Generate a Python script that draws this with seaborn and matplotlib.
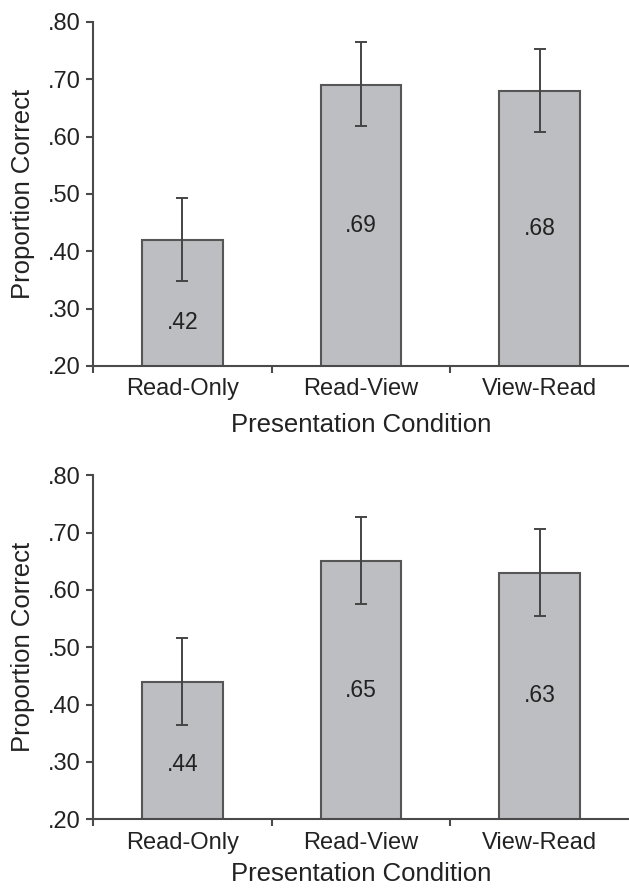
import seaborn as sns
import matplotlib.pyplot as plt
import matplotlib.ticker as mticker

conditions = ["Read-Only", "Read-View", "View-Read"]

top_means = [0.42, 0.69, 0.68]
top_err_low = [0.348, 0.618, 0.608]
top_err_high = [0.493, 0.765, 0.753]

bottom_means = [0.44, 0.65, 0.63]
bottom_err_low = [0.364, 0.575, 0.554]
bottom_err_high = [0.517, 0.727, 0.706]

y_ticks = [0.20, 0.30, 0.40, 0.50, 0.60, 0.70, 0.80]

BAR_COLOR = "#bdbec1"
EDGE_COLOR = "#565656"
AXIS_COLOR = "#4a4a4a"
TEXT_COLOR = "#222222"

sns.set_style("ticks")
plt.rcParams["font.family"] = ["Liberation Sans", "DejaVu Sans"]


def draw_panel(ax, means, low, high, xlabel_pad):
    sns.barplot(x=conditions, y=means, ax=ax, color=BAR_COLOR, saturation=1,
                width=0.45, edgecolor=EDGE_COLOR, linewidth=1.5, errorbar=None)
    yerr = [[m - lo for m, lo in zip(means, low)],
            [hi - m for m, hi in zip(means, high)]]
    ax.errorbar(range(len(means)), means, yerr=yerr, fmt="none",
                ecolor="#444444", elinewidth=1.4, capsize=4, capthick=1.4, zorder=5)

    for i, m in enumerate(means):
        label_y = min((m + 0.2) / 2, m - 0.145)
        ax.text(i, label_y, f"{m:.2f}".lstrip("0"), ha="center", va="center",
                fontsize=16.5, color=TEXT_COLOR)

    ax.set_ylim(0.2, 0.8)
    ax.set_xlim(-0.5, 2.5)
    ax.set_yticks(y_ticks)
    ax.yaxis.set_major_formatter(mticker.FuncFormatter(lambda v, _: f"{v:.2f}".lstrip("0")))
    ax.set_xticks(range(len(conditions)))
    ax.set_xticklabels(conditions)
    # category boundary ticks (the one at the right edge is not shown in the original)
    ax.xaxis.set_minor_locator(mticker.FixedLocator([-0.5, 0.5, 1.5]))
    ax.tick_params(axis="x", which="major", length=0, pad=9, labelsize=17, labelcolor=TEXT_COLOR)
    ax.tick_params(axis="x", which="minor", length=5, width=1.5, color=AXIS_COLOR, direction="out")
    ax.tick_params(axis="y", length=5, width=1.5, color=AXIS_COLOR, pad=4,
                   labelsize=17, labelcolor=TEXT_COLOR)

    sns.despine(ax=ax, top=True, right=True)
    for side in ["left", "bottom"]:
        ax.spines[side].set_color(AXIS_COLOR)
        ax.spines[side].set_linewidth(1.5)

    ax.set_xlabel("Presentation Condition", fontsize=18.5, color=TEXT_COLOR, labelpad=xlabel_pad)
    ax.set_ylabel("Proportion Correct", fontsize=18.5, color=TEXT_COLOR, labelpad=9)


fig = plt.figure(figsize=(6.29, 8.90), dpi=100)
ax_top = fig.add_axes([0.148, 0.5888, 0.852, 0.3865])
ax_bottom = fig.add_axes([0.148, 0.0795, 0.852, 0.3865])

draw_panel(ax_top, top_means, top_err_low, top_err_high, 9)
draw_panel(ax_bottom, bottom_means, bottom_err_low, bottom_err_high, 6)

fig.savefig("out.png", dpi=100, facecolor="white")
